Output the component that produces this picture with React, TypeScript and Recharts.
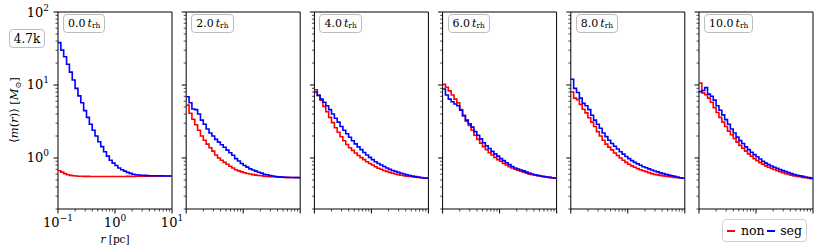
import React from 'react';
import { LineChart, Line, XAxis, YAxis, ReferenceArea } from 'recharts';

// radial bin edges [pc], 0.05 dex wide
const rEdges = [
  0.1, 0.1122, 0.1259, 0.1413, 0.1585, 0.1778, 0.1995, 0.2239, 0.2512, 0.2818,
  0.3162, 0.3548, 0.3981, 0.4467, 0.5012, 0.5623, 0.631, 0.7079, 0.7943, 0.8913,
  1, 1.122, 1.259, 1.413, 1.585, 1.778, 1.995, 2.239, 2.512, 2.818,
  3.162, 3.548, 3.981, 4.467, 5.012, 5.623, 6.31, 7.079, 7.943, 8.913, 10,
];

const panelTimes = ['0.0', '2.0', '4.0', '6.0', '8.0', '10.0'];

// <m(r)> per bin, non-segregated
const non0 = [0.67, 0.64, 0.61, 0.59, 0.578, 0.57, 0.566, 0.563, 0.561, 0.56, 0.559, 0.558, 0.558, 0.557, 0.557, 0.557, 0.557, 0.557, 0.557, 0.557, 0.557, 0.557, 0.558, 0.558, 0.559, 0.56, 0.56, 0.561, 0.562, 0.563, 0.563, 0.564, 0.565, 0.565, 0.566, 0.566, 0.567, 0.567, 0.567, 0.567];
const non2 = [5.3, 4.1, 3.4, 2.85, 2.4, 2.0, 1.75, 1.55, 1.38, 1.24, 1.1, 1.0, 0.93, 0.87, 0.82, 0.77, 0.73, 0.69, 0.665, 0.645, 0.628, 0.614, 0.602, 0.592, 0.583, 0.576, 0.57, 0.565, 0.56, 0.556, 0.552, 0.549, 0.546, 0.544, 0.542, 0.541, 0.54, 0.54, 0.54, 0.54];
const non4 = [8.6, 7.2, 6.2, 5.1, 4.3, 3.6, 3.05, 2.6, 2.25, 1.95, 1.72, 1.53, 1.38, 1.27, 1.17, 1.08, 1.01, 0.95, 0.89, 0.84, 0.8, 0.76, 0.725, 0.7, 0.675, 0.655, 0.635, 0.618, 0.603, 0.59, 0.58, 0.572, 0.565, 0.558, 0.552, 0.547, 0.542, 0.537, 0.533, 0.53];
const non6 = [10.2, 9.3, 8.3, 7.3, 6.4, 5.7, 4.6, 3.8, 3.2, 2.8, 2.4, 2.05, 1.8, 1.6, 1.43, 1.3, 1.18, 1.1, 1.02, 0.95, 0.9, 0.84, 0.8, 0.76, 0.73, 0.7, 0.68, 0.66, 0.64, 0.62, 0.6, 0.59, 0.58, 0.57, 0.563, 0.555, 0.55, 0.543, 0.537, 0.53];
const non8 = [8.0, 6.6, 6.3, 5.4, 4.65, 4.15, 3.55, 3.1, 2.7, 2.3, 2.0, 1.75, 1.55, 1.41, 1.29, 1.17, 1.08, 1.0, 0.93, 0.87, 0.82, 0.78, 0.745, 0.715, 0.69, 0.67, 0.65, 0.63, 0.61, 0.597, 0.587, 0.578, 0.568, 0.561, 0.555, 0.548, 0.542, 0.537, 0.532, 0.527];
const non10 = [10.6, 7.8, 7.35, 6.6, 5.8, 4.9, 4.2, 3.6, 3.1, 2.7, 2.33, 2.08, 1.85, 1.65, 1.49, 1.36, 1.24, 1.14, 1.06, 0.98, 0.92, 0.865, 0.82, 0.78, 0.745, 0.72, 0.695, 0.672, 0.65, 0.63, 0.608, 0.595, 0.582, 0.568, 0.56, 0.552, 0.543, 0.535, 0.528, 0.522];

// <m(r)> per bin, segregated
const seg0 = [38, 30, 24.4, 19.2, 15, 11.7, 9.0, 7.1, 5.7, 4.45, 3.6, 2.9, 2.4, 2.0, 1.67, 1.43, 1.22, 1.06, 0.93, 0.85, 0.79, 0.73, 0.69, 0.66, 0.635, 0.615, 0.6, 0.59, 0.585, 0.58, 0.577, 0.574, 0.572, 0.57, 0.57, 0.568, 0.568, 0.567, 0.567, 0.567];
const seg2 = [6.9, 5.7, 4.7, 4.6, 4.0, 3.3, 2.9, 2.5, 2.2, 2.0, 1.8, 1.65, 1.52, 1.4, 1.28, 1.18, 1.09, 0.98, 0.91, 0.84, 0.79, 0.75, 0.71, 0.685, 0.66, 0.637, 0.62, 0.6, 0.588, 0.575, 0.566, 0.558, 0.551, 0.547, 0.544, 0.542, 0.54, 0.539, 0.538, 0.538];
const seg4 = [8.0, 7.2, 6.4, 5.8, 5.2, 4.6, 4.0, 3.5, 3.1, 2.7, 2.4, 2.15, 1.92, 1.72, 1.56, 1.42, 1.3, 1.19, 1.1, 1.02, 0.95, 0.89, 0.84, 0.8, 0.765, 0.73, 0.7, 0.675, 0.655, 0.635, 0.618, 0.603, 0.59, 0.575, 0.564, 0.555, 0.547, 0.54, 0.533, 0.527];
const seg6 = [8.8, 7.3, 6.4, 5.9, 5.5, 5.2, 4.5, 3.8, 3.3, 2.95, 2.65, 2.3, 2.05, 1.83, 1.62, 1.47, 1.35, 1.23, 1.14, 1.06, 0.98, 0.92, 0.86, 0.81, 0.765, 0.73, 0.705, 0.685, 0.665, 0.64, 0.62, 0.603, 0.59, 0.578, 0.567, 0.558, 0.55, 0.543, 0.535, 0.527];
const seg8 = [12.0, 9.0, 7.9, 6.6, 5.6, 5.2, 4.6, 3.85, 3.3, 2.9, 2.55, 2.2, 1.96, 1.75, 1.58, 1.45, 1.33, 1.22, 1.13, 1.05, 0.98, 0.92, 0.87, 0.83, 0.795, 0.76, 0.735, 0.71, 0.685, 0.663, 0.645, 0.625, 0.61, 0.597, 0.583, 0.572, 0.56, 0.548, 0.537, 0.528];
const seg10 = [8.1, 8.4, 9.2, 7.5, 7.0, 6.2, 5.2, 4.5, 3.9, 3.35, 2.9, 2.5, 2.2, 1.93, 1.73, 1.58, 1.42, 1.3, 1.2, 1.11, 1.04, 0.97, 0.9, 0.85, 0.81, 0.775, 0.745, 0.72, 0.695, 0.672, 0.65, 0.63, 0.61, 0.595, 0.58, 0.57, 0.56, 0.55, 0.541, 0.53];

const nonPanels = [non0, non2, non4, non6, non8, non10];
const segPanels = [seg0, seg2, seg4, seg6, seg8, seg10];

const xMajor = [0.1, 1, 10];
const xMajorExp = ['\u22121', '0', '1'];
const xMinor = [0.2, 0.3, 0.4, 0.5, 0.6, 0.7, 0.8, 0.9, 2, 3, 4, 5, 6, 7, 8, 9];
const yMajor = [1, 10, 100];
const yMajorExp = ['0', '1', '2'];
const yMinor = [0.2, 0.3, 0.4, 0.5, 0.6, 0.7, 0.8, 0.9, 2, 3, 4, 5, 6, 7, 8, 9, 20, 30, 40, 50, 60, 70, 80, 90];

const FONT = '"DejaVu Serif", serif';
const W = 830;
const H = 249;
const PANEL_W = 114;
const PLOT_TOP = 12;
const PLOT_BOTTOM = 209;
const Y_AXIS_W = 40;
const X_AXIS_H = 30;
const panelLeft = [58, 186.2, 314.4, 442.6, 570.8, 699];

function buildRows(non: number[], seg: number[]) {
  return rEdges.map((r, i) => {
    const k = Math.min(i, non.length - 1);
    return { r, non: non[k], seg: seg[k] };
  });
}

function makeXTick(showLabel: boolean) {
  return (props: any) => {
    const { x, y, payload } = props;
    const idx = xMajor.indexOf(payload.value);
    const major = idx >= 0;
    return (
      <g>
        <line x1={x} x2={x} y1={y} y2={y + (major ? 4.5 : 2.5)} stroke="#000" strokeWidth={major ? 1 : 0.7} />
        {major && showLabel && (
          <text x={x} y={y + 18} textAnchor="middle" fontFamily={FONT} fontSize={13} fill="#000">
            10<tspan dy={-6} fontSize={9}>{xMajorExp[idx]}</tspan>
          </text>
        )}
      </g>
    );
  };
}

function makeYTick(showLabel: boolean) {
  return (props: any) => {
    const { x, y, payload } = props;
    const idx = yMajor.indexOf(payload.value);
    const major = idx >= 0;
    return (
      <g>
        <line x1={x} x2={x - (major ? 4.5 : 2.5)} y1={y} y2={y} stroke="#000" strokeWidth={major ? 1 : 0.7} />
        {major && showLabel && (
          <text x={x - 9} y={y + 4.5} textAnchor="end" fontFamily={FONT} fontSize={13} fill="#000">
            10<tspan dy={-6} fontSize={9}>{yMajorExp[idx]}</tspan>
          </text>
        )}
      </g>
    );
  };
}

function Panel({ index }: { index: number }) {
  const left = panelLeft[index];
  const rows = buildRows(nonPanels[index], segPanels[index]);
  const first = index === 0;
  return (
    <div style={{ position: 'absolute', left: 0, top: 0 }}>
      <LineChart
        width={W}
        height={H}
        data={rows}
        margin={{
          top: PLOT_TOP,
          bottom: H - PLOT_BOTTOM - X_AXIS_H,
          left: left - Y_AXIS_W,
          right: W - left - PANEL_W,
        }}
      >
        <XAxis
          dataKey="r"
          type="number"
          scale="log"
          domain={[0.1, 10]}
          allowDataOverflow
          ticks={[...xMajor, ...xMinor]}
          interval={0}
          height={X_AXIS_H}
          tickSize={0}
          tickMargin={0}
          axisLine={false}
          tickLine={false}
          tick={makeXTick(first)}
        />
        <YAxis
          type="number"
          scale="log"
          domain={[0.2, 100]}
          allowDataOverflow
          ticks={[...yMajor, ...yMinor]}
          interval={0}
          width={Y_AXIS_W}
          tickSize={0}
          tickMargin={0}
          axisLine={false}
          tickLine={false}
          tick={makeYTick(first)}
        />
        <Line type="stepAfter" dataKey="non" stroke="#ff0000" strokeWidth={1.6} dot={false} isAnimationActive={false} />
        <Line type="stepAfter" dataKey="seg" stroke="#0000ff" strokeWidth={1.6} dot={false} isAnimationActive={false} />
        <ReferenceArea x1={0.1} x2={10} y1={0.2} y2={100} fill="none" stroke="#000" strokeWidth={1} ifOverflow="visible" />
      </LineChart>
    </div>
  );
}

const boxStyle: React.CSSProperties = {
  position: 'absolute',
  boxSizing: 'border-box',
  border: '1px solid #bdbdbd',
  borderRadius: 4,
  background: 'rgba(255,255,255,0.8)',
  fontFamily: FONT,
  color: '#000',
  display: 'flex',
  alignItems: 'center',
  justifyContent: 'center',
  whiteSpace: 'nowrap',
};

export default function App() {
  return (
    <div style={{ position: 'absolute', left: 0, top: 0, width: W, height: H, background: '#fff', overflow: 'hidden' }}>
      {panelTimes.map((_, i) => (
        <Panel key={i} index={i} />
      ))}

      {panelTimes.map((t, i) => (
        <div key={t} style={{ ...boxStyle, left: panelLeft[i] + 5, top: 14, height: 19, padding: '0 4px', fontSize: 11 }}>
          {t}
          <span style={{ fontStyle: 'italic', marginLeft: 2 }}>t</span>
          <span style={{ fontSize: 7.5, position: 'relative', top: 2 }}>rh</span>
        </div>
      ))}

      <div style={{ ...boxStyle, left: 9, top: 29, width: 36, height: 19, fontSize: 12 }}>4.7k</div>

      <div
        style={{
          position: 'absolute',
          left: 14.5,
          top: 110,
          transform: 'translate(-50%, -50%) rotate(-90deg)',
          fontFamily: FONT,
          fontSize: 11.5,
          lineHeight: '14px',
          whiteSpace: 'nowrap',
        }}
      >
        {'\u27E8'}<i>m</i>(<i>r</i>){'\u27E9'} [<i>M</i><span style={{ fontSize: 8, position: 'relative', top: 3 }}>{'\u2299'}</span>]
      </div>

      <div
        style={{
          position: 'absolute',
          left: 115,
          top: 239,
          transform: 'translate(-50%, -50%)',
          fontFamily: FONT,
          fontSize: 10.5,
          whiteSpace: 'nowrap',
        }}
      >
        <i>r</i> [pc]
      </div>

      <div style={{ ...boxStyle, left: 722, top: 219, width: 85, height: 23, justifyContent: 'flex-start', fontSize: 12.5, borderColor: '#d0d0d0' }}>
        <span style={{ display: 'inline-block', width: 8, height: 2, background: '#ff0000', marginLeft: 4, marginRight: 6 }} />
        non
        <span style={{ display: 'inline-block', width: 8, height: 2, background: '#0000ff', marginLeft: 2, marginRight: 5.5 }} />
        seg
      </div>
    </div>
  );
}
